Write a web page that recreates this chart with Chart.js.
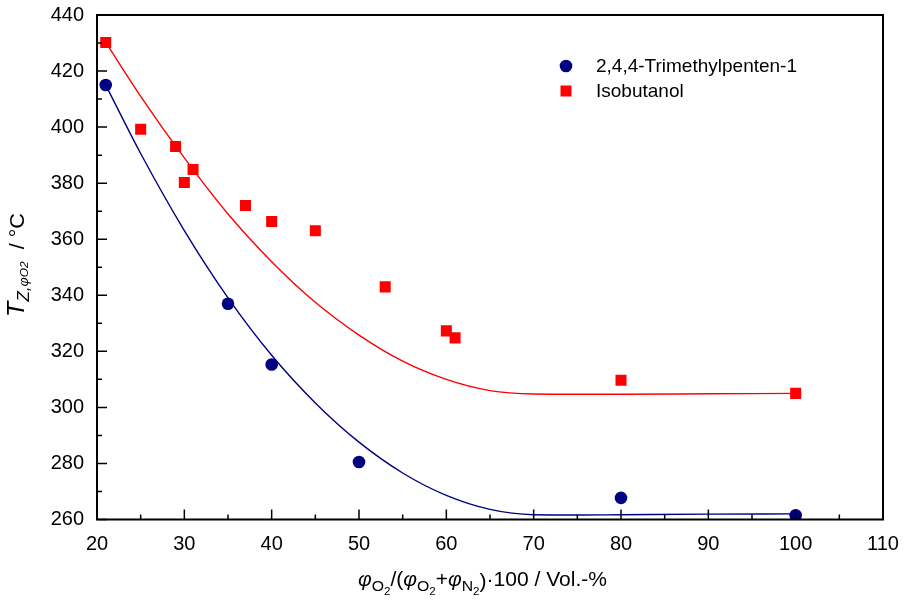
<!DOCTYPE html>
<html><head><meta charset="utf-8">
<script src="https://cdn.jsdelivr.net/npm/chart.js@4/dist/chart.umd.min.js"></script>
<style>html,body{margin:0;padding:0;background:#fff}</style>
</head><body>
<canvas id="c" width="904" height="602"></canvas>
<script>
// ---- data ----
const xTicks = [20, 30, 40, 50, 60, 70, 80, 90, 100, 110];
const yTicks = [260, 280, 300, 320, 340, 360, 380, 400, 420, 440];

const tmpLabel = '2,4,4-Trimethylpenten-1';
const tmpX = [21, 35, 40, 50, 80, 100];
const tmpY = [415, 337, 315.3, 280.5, 267.7, 261.5];

const isoLabel = 'Isobutanol';
const isoX = [21, 25, 29, 30, 31, 37, 40, 45, 53, 60, 61, 80, 100];
const isoY = [430.2, 399.2, 393.1, 380.2, 384.9, 372, 366.3, 363, 343, 327.3, 324.8, 309.7, 305];

// fitted curves
const tmpFitX = [21, 25, 30, 35, 40, 45, 50, 55, 60, 65, 70, 75, 80, 90, 100];
const tmpFitY = [415, 390.6, 363.1, 339.1, 318.6, 301.6, 287.6, 276.6, 268.6, 263.6, 261.7, 261.6, 261.7, 261.9, 262];

const isoFitX = [21, 25, 30, 35, 40, 45, 50, 55, 60, 65, 70, 75, 80, 90, 100];
const isoFitY = [430.2, 411, 389, 369, 352, 337.5, 325.8, 316.5, 310, 306, 304.8, 304.7, 304.7, 304.85, 305];

const BLUE = '#000080';
const RED = '#ff0000';
const FONT = '"Liberation Sans", Arial, sans-serif';

const pts = (xs, ys) => xs.map((x, i) => ({x: x, y: ys[i]}));

function drawRich(ctx, segs, x, y, target) {
  let total = 0;
  segs.forEach(s => {
    ctx.font = (s.italic ? 'italic ' : '') + s.size + 'px ' + FONT;
    s.w = ctx.measureText(s.t).width;
    total += s.w;
  });
  const k = target ? target / total : 1;
  ctx.save();
  ctx.translate(x, y);
  ctx.scale(k, 1);
  let cx = -total / 2;
  ctx.textBaseline = 'alphabetic';
  ctx.textAlign = 'left';
  segs.forEach(s => {
    ctx.font = (s.italic ? 'italic ' : '') + s.size + 'px ' + FONT;
    ctx.fillText(s.t, cx, s.dy || 0);
    cx += s.w;
  });
  ctx.restore();
}

const decor = {
  id: 'decor',
  afterDraw(chart) {
    const ctx = chart.ctx;
    const a = chart.chartArea;
    const xs = chart.scales.x, ys = chart.scales.y;
    ctx.save();
    ctx.strokeStyle = '#000';
    // frame
    ctx.lineWidth = 2;
    ctx.strokeRect(a.left, a.top, a.right - a.left, a.bottom - a.top);
    // ticks (inward)
    ctx.lineWidth = 1.5;
    ctx.beginPath();
    xTicks.forEach((v, i) => {
      const px = xs.getPixelForValue(v);
      ctx.moveTo(px, a.bottom); ctx.lineTo(px, a.bottom - 10);
      if (i < xTicks.length - 1) {
        const m = xs.getPixelForValue((v + xTicks[i + 1]) / 2);
        ctx.moveTo(m, a.bottom); ctx.lineTo(m, a.bottom - 5);
      }
    });
    yTicks.forEach((v, i) => {
      const py = ys.getPixelForValue(v);
      ctx.moveTo(a.left, py); ctx.lineTo(a.left + 10, py);
      if (i < yTicks.length - 1) {
        const m = ys.getPixelForValue((v + yTicks[i + 1]) / 2);
        ctx.moveTo(a.left, m); ctx.lineTo(a.left + 5, m);
      }
    });
    ctx.stroke();

    // legend
    ctx.fillStyle = BLUE;
    ctx.beginPath(); ctx.arc(566, 66, 6.3, 0, Math.PI * 2); ctx.fill();
    ctx.fillStyle = RED;
    ctx.fillRect(566 - 5.5, 91 - 5.5, 11, 11);
    ctx.fillStyle = '#000';
    ctx.font = '19px ' + FONT;
    ctx.textAlign = 'left';
    ctx.textBaseline = 'middle';
    ctx.fillText(tmpLabel, 596, 67);
    ctx.fillText(isoLabel, 596, 92);

    // x title
    ctx.fillStyle = '#000';
    drawRich(ctx, [
      {t: 'φ', size: 20, italic: true},
      {t: 'O', size: 15, dy: 5},
      {t: '2', size: 11, dy: 9},
      {t: '/(', size: 20},
      {t: 'φ', size: 20, italic: true},
      {t: 'O', size: 15, dy: 5},
      {t: '2', size: 11, dy: 9},
      {t: '+', size: 20},
      {t: 'φ', size: 20, italic: true},
      {t: 'N', size: 15, dy: 5},
      {t: '2', size: 11, dy: 9},
      {t: ')', size: 20, dy: 2},
      {t: '·100 / Vol.-%', size: 20}
    ], 482.5, 586, 249);

    // y title
    ctx.save();
    ctx.translate(24, 265);
    ctx.rotate(-Math.PI / 2);
    drawRich(ctx, [
      {t: 'T', size: 23, italic: true},
      {t: 'Z,', size: 16, italic: true, dy: 5},
      {t: 'φ', size: 13, italic: true, dy: 4},
      {t: 'O2', size: 11, italic: true, dy: 4},
      {t: '  / °C', size: 20}
    ], 0, 0, 104);
    ctx.restore();
    ctx.restore();
  }
};

new Chart(document.getElementById('c'), {
  type: 'scatter',
  data: {
    datasets: [
      {label: tmpLabel, data: pts(tmpX, tmpY), backgroundColor: BLUE, borderColor: BLUE,
       pointStyle: 'circle', pointRadius: 6.3, pointBorderWidth: 0, showLine: false, order: 1},
      {label: isoLabel, data: pts(isoX, isoY), backgroundColor: RED, borderColor: RED,
       pointStyle: 'rect', pointRadius: 7.8, pointBorderWidth: 0, showLine: false, order: 1},
      {label: 'fit1', data: pts(tmpFitX, tmpFitY), borderColor: BLUE, borderWidth: 1.4,
       showLine: true, pointRadius: 0, cubicInterpolationMode: 'monotone', order: 2},
      {label: 'fit2', data: pts(isoFitX, isoFitY), borderColor: RED, borderWidth: 1.4,
       showLine: true, pointRadius: 0, cubicInterpolationMode: 'monotone', order: 2}
    ]
  },
  options: {
    responsive: false,
    animation: false,
    devicePixelRatio: 1,
    layout: {padding: {left: 0, top: 15, right: 21, bottom: 0}},
    plugins: {legend: {display: false}, tooltip: {enabled: false}},
    scales: {
      x: {
        type: 'linear', min: 20, max: 110,
        afterBuildTicks: s => { s.ticks = xTicks.map(v => ({value: v})); },
        afterFit: s => { s.height = 82.5; s.paddingLeft = 0; s.paddingRight = 0; },
        grid: {display: false, drawTicks: false},
        border: {display: false},
        ticks: {font: {family: FONT, size: 20}, color: '#000', padding: 13, maxRotation: 0, autoSkip: false}
      },
      y: {
        type: 'linear', min: 260, max: 440,
        afterBuildTicks: s => { s.ticks = yTicks.map(v => ({value: v})); },
        afterFit: s => { s.width = 97; s.paddingTop = 0; s.paddingBottom = 0; },
        grid: {display: false, drawTicks: false},
        border: {display: false},
        ticks: {font: {family: FONT, size: 20}, color: '#000', padding: 13, autoSkip: false}
      }
    }
  },
  plugins: [decor]
});
</script>
</body></html>
